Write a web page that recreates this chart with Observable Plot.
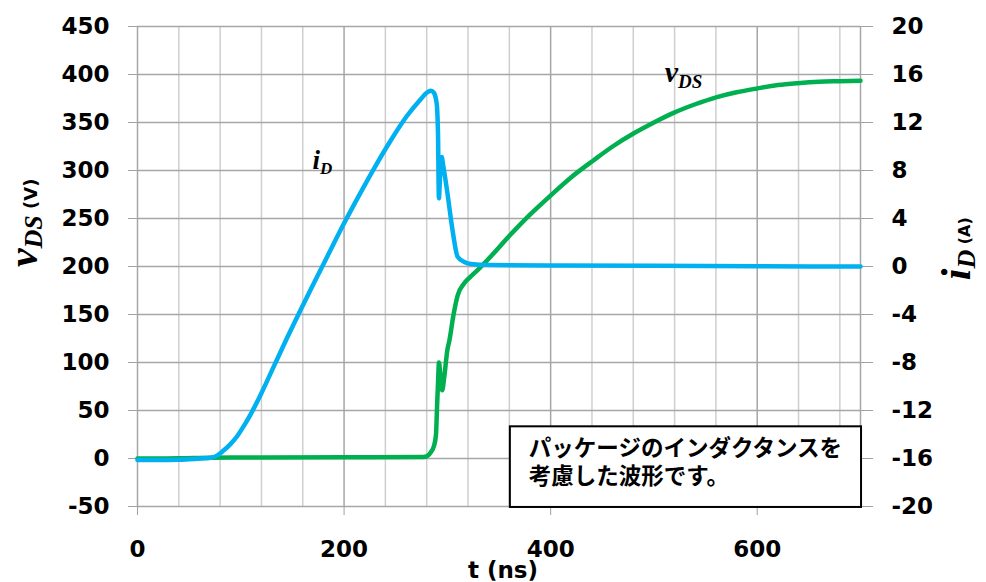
<!DOCTYPE html>
<html>
<head>
<meta charset="utf-8">
<script src="https://cdn.jsdelivr.net/npm/d3@7"></script>
<script src="https://cdn.jsdelivr.net/npm/@observablehq/plot@0.6"></script>
<style>
  html, body { margin: 0; padding: 0; background: #fff; }
  #chart { width: 986px; height: 582px; }
</style>
</head>
<body>
<div id="chart"></div>
<script>
// ---- data ----
const t_i = [0,20,40,55,65,71,77,83,90,97,103,109,119,132,145,158,170,184,200,216,229,245,261,274,280,284,287,289,290,291,291.8,293,294.5,296,300,305,310,316,323,340,400,500,600,700];
const iD  = [-16.12,-16.12,-16.10,-16.04,-15.98,-15.94,-15.76,-15.36,-14.8,-14.08,-13.28,-12.4,-10.72,-8.32,-5.92,-3.6,-1.52,0.88,3.6,6.16,8.16,10.48,12.56,13.92,14.48,14.64,14.48,13.92,13.28,10.8,5.68,7.6,9.12,8.4,6.16,3.04,0.8,0.4,0.2,0.12,0.08,0.06,0.02,0];
const t_v = [0,40,70,120,200,277,281,284,287,289,290,291,291.9,293.5,295,297,300,302,306,310,316,322,330,339,361,380,400,420,442,460,481,500,519,540,561,580,600,620,639,660,680,700];
const vDS = [0,0.2,0.8,1.0,1.3,1.5,3,6.6,13,25,53,80,100,82,71,85,113,123,150,170,182,189,197,207,233,254,274,293,311,325,339,350,360,369,376.5,381.5,385.5,389,391,392.5,393,393.5];

const vTicks = [-50,0,50,100,150,200,250,300,350,400,450];
const iTicks = [-20,-16,-12,-8,-4,0,4,8,12,16,20];
const tTicks = [0,200,400,600];
const tGrid = [0,40,80,120,160,200,240,280,320,360,400,440,480,520,560,600,640,680,700];

const noteLines = ["パッケージのインダクタンスを", "考慮した波形です。"];

// secondary axis mapping: i (A) -> v (V) scale position
const iToV = i => 200 + 12.5 * i;
const vToI = v => (v - 200) / 12.5;

const green = t_v.map((t, k) => ({t, v: vDS[k]}));
const blue = t_i.map((t, k) => ({t, v: iToV(iD[k])}));

const plot = Plot.plot({
  width: 986,
  height: 582,
  marginLeft: 137,
  marginRight: 126,
  marginTop: 26,
  marginBottom: 76,
  x: {domain: [0, 700]},
  y: {domain: [-50, 450]},
  style: {fontFamily: "'DejaVu Sans', Verdana, sans-serif", fontSize: "23px", fontWeight: "bold", color: "#000", background: "#fff", overflow: "visible"},
  marks: [
    Plot.ruleX(tGrid.filter(d => d % 200 !== 0 && d !== 700), {x: d => d, stroke: "#cfcfcf", strokeWidth: 1.5}),
    Plot.ruleX(tGrid.filter(d => d % 200 === 0 || d === 700), {x: d => d, stroke: "#a6a6a6", strokeWidth: 1.5}),
    Plot.ruleY(vTicks, {y: d => d, stroke: "#a6a6a6", strokeWidth: 1.5}),
    Plot.axisY({anchor: "left", ticks: vTicks, tickSize: 9, tickPadding: 19, tickFormat: d => String(d), label: null, stroke: "#a0a0a0", fill: "#000"}),
    Plot.axisY({anchor: "right", ticks: iTicks.map(iToV), tickSize: 12, tickPadding: 19, tickFormat: v => String(Math.round(vToI(v))), label: null, stroke: "#a0a0a0", fill: "#000"}),
    Plot.axisX({ticks: tTicks, tickSize: 9, tickPadding: 25, tickFormat: d => String(d), label: null, stroke: "#a0a0a0", fill: "#000"}),
    Plot.line(green, {x: "t", y: "v", curve: "monotone-x", stroke: "#00b050", strokeWidth: 4.5, strokeLinejoin: "round", strokeLinecap: "round"}),
    Plot.line(blue, {x: "t", y: "v", curve: "monotone-x", stroke: "#00b0f0", strokeWidth: 4.5, strokeLinejoin: "round", strokeLinecap: "round"})
  ]
});

document.getElementById("chart").appendChild(plot);

const sx = plot.scale("x"), sy = plot.scale("y");
const svg = d3.select(plot);
const serif = "'Liberation Serif', 'DejaVu Serif', serif";
const sans = "'DejaVu Sans', Verdana, sans-serif";

// note box
const bx0 = sx.apply(361), bx1 = sx.apply(701), by0 = sy.apply(33), by1 = sy.apply(-51);
svg.append("rect").attr("x", bx0).attr("y", by0).attr("width", bx1 - bx0).attr("height", by1 - by0)
  .attr("fill", "#fff").attr("stroke", "#000").attr("stroke-width", 2);
const note = svg.append("text").attr("text-anchor", "start")
  .attr("font-family", "'Noto Sans CJK JP', sans-serif").attr("font-size", 22.5).attr("font-weight", "bold")
  .attr("fill", "#000");
noteLines.forEach((s, k) => {
  note.append("tspan").attr("x", bx0 + 19).attr("y", by0 + 30 + k * 28).text(s);
});

// in-plot series labels
function subLabel(x, y, main, sub, size, subSize) {
  const t = svg.append("text").attr("x", x).attr("y", y).attr("text-anchor", "start").attr("font-family", serif)
    .attr("font-style", "italic").attr("font-weight", "bold").attr("fill", "#000");
  t.append("tspan").attr("font-size", size).text(main);
  t.append("tspan").attr("font-size", subSize).attr("dy", size * 0.2).text(sub);
}
subLabel(sx.apply(170), sy.apply(301), "i", "D", 27, 17);
subLabel(sx.apply(511), sy.apply(392), "v", "DS", 30, 19);

// x axis title
svg.append("text").attr("x", 503).attr("y", 578).attr("text-anchor", "middle")
  .attr("font-family", sans).attr("font-size", 23).attr("font-weight", "bold").text("t (ns)");

// left axis title
{
  const g = svg.append("g").attr("transform", `translate(37,${sy.apply(245)}) rotate(-90)`);
  const t = g.append("text").attr("text-anchor", "middle").attr("fill", "#000");
  t.append("tspan").attr("font-family", serif).attr("font-style", "italic").attr("font-weight", "bold").attr("font-size", 42).text("v");
  t.append("tspan").attr("font-family", serif).attr("font-style", "italic").attr("font-weight", "bold").attr("font-size", 26).attr("dy", 5).text("DS");
  t.append("tspan").attr("font-family", sans).attr("font-weight", "bold").attr("font-size", 18).attr("dy", -5).text(" (V)");
}
// right axis title
{
  const g = svg.append("g").attr("transform", `translate(970,${sy.apply(218)}) rotate(-90)`);
  const t = g.append("text").attr("text-anchor", "middle").attr("fill", "#000");
  t.append("tspan").attr("font-family", serif).attr("font-style", "italic").attr("font-weight", "bold").attr("font-size", 42).text("i");
  t.append("tspan").attr("font-family", serif).attr("font-style", "italic").attr("font-weight", "bold").attr("font-size", 26).attr("dy", 5).text("D");
  t.append("tspan").attr("font-family", sans).attr("font-weight", "bold").attr("font-size", 16).attr("dy", -5).text(" (A)");
}
</script>
</body>
</html>
